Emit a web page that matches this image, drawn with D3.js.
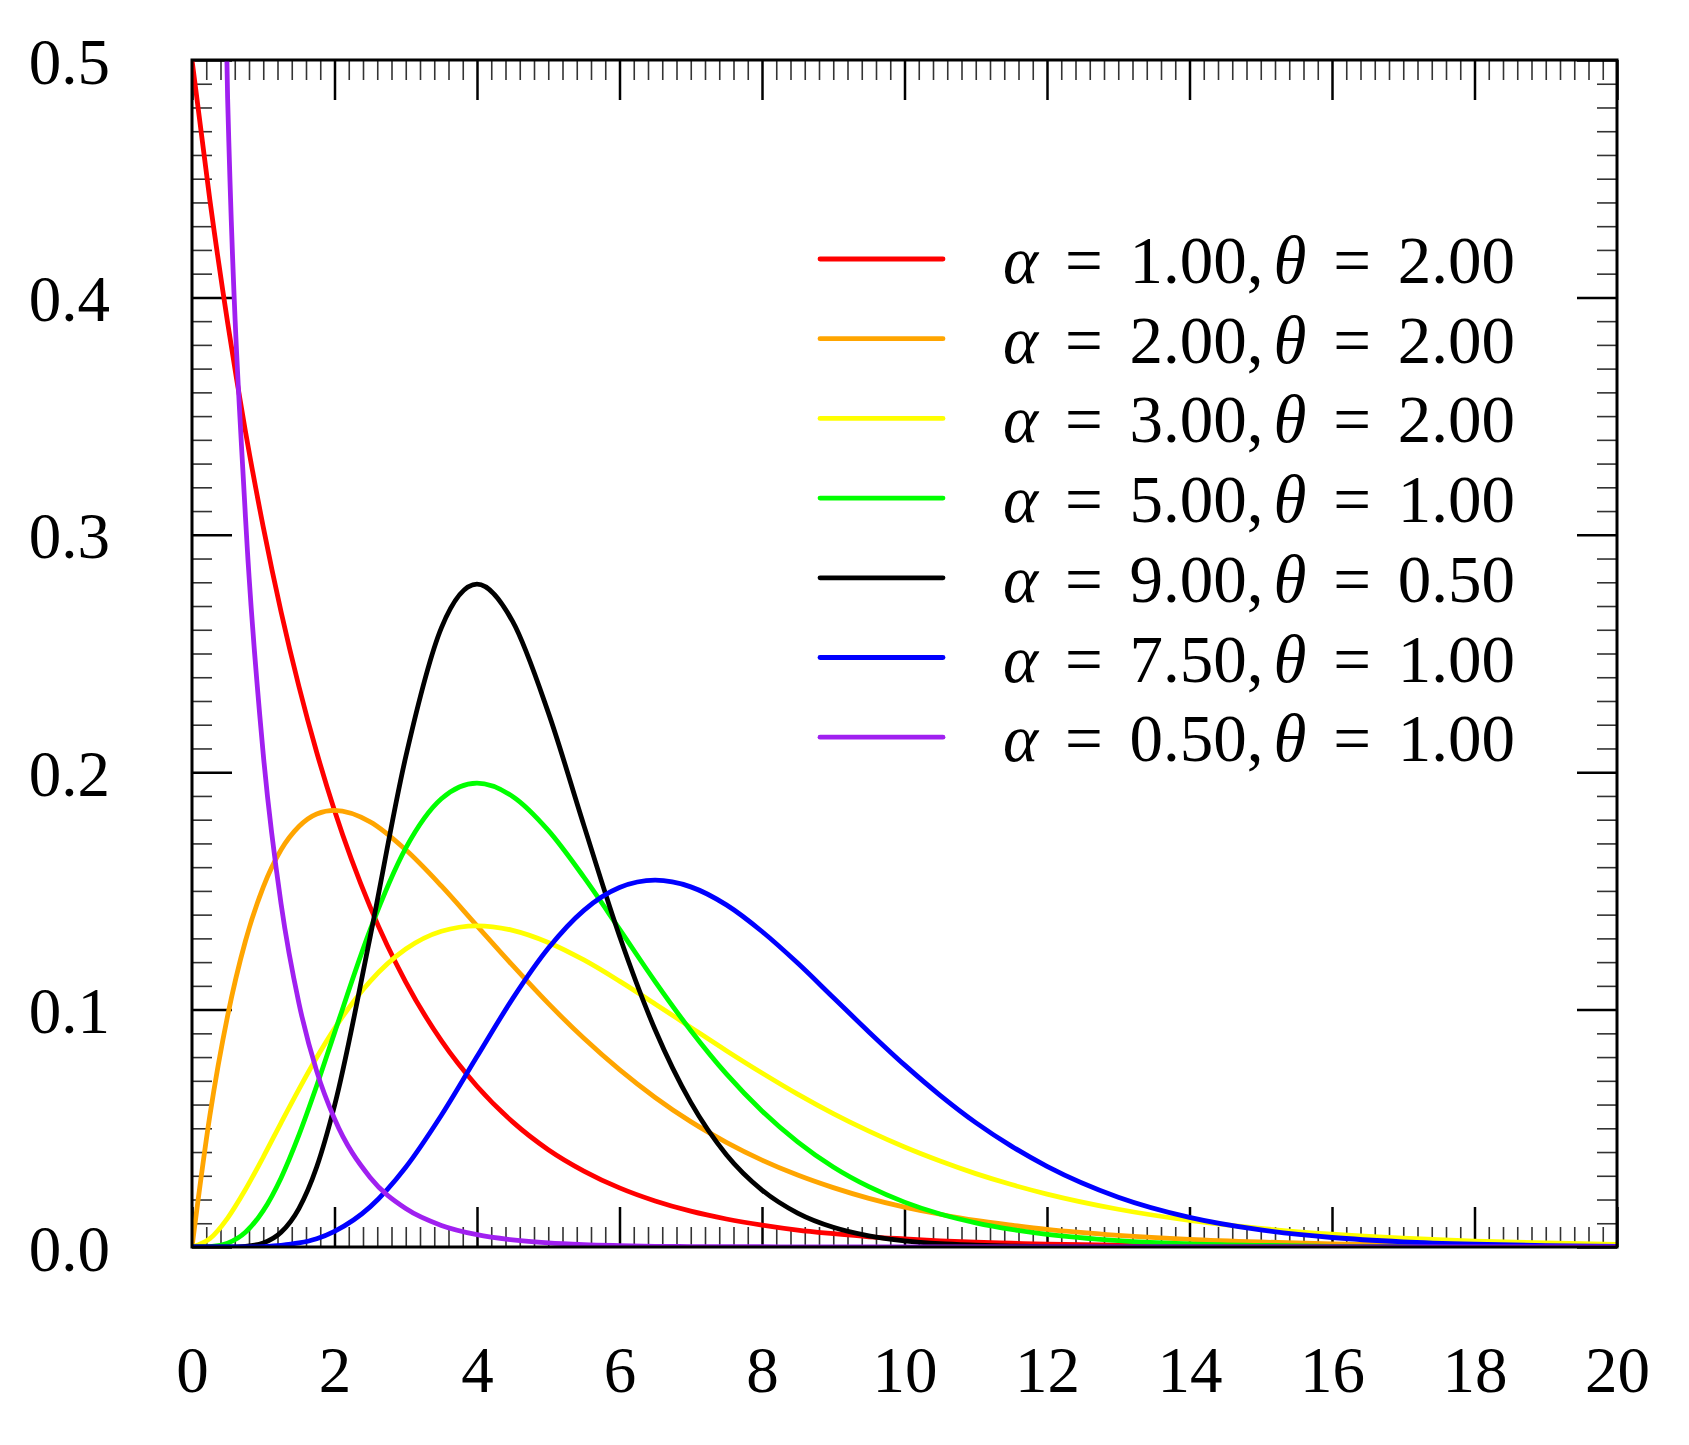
<!DOCTYPE html>
<html>
<head>
<meta charset="utf-8">
<script src="https://cdn.jsdelivr.net/npm/d3@7"></script>
<style>
  body { margin: 0; background: #fff; }
</style>
</head>
<body>
<div id="chart"></div>
<script>
// x positions the curves were read at
const xs = [0, 0.25, 0.5, 0.75, 1, 1.25, 1.5, 1.75, 2, 2.5, 3, 3.5, 4, 4.5, 5, 5.5, 6, 6.5, 7, 7.5,
  8, 8.5, 9, 9.5, 10, 10.5, 11, 11.5, 12, 13, 14, 15, 16, 17, 18, 19, 20]

// density values, one array per curve
const a1t2 = [0.5, 0.4412, 0.3894, 0.3436, 0.3033, 0.2676, 0.2362, 0.2084, 0.1839, 0.1433, 0.1116, 0.0869,
  0.0677, 0.0527, 0.041, 0.032, 0.0249, 0.0194, 0.0151, 0.0118, 0.0092, 0.0071, 0.0056, 0.0043, 0.0034,
  0.0026, 0.002, 0.0016, 0.0012, 0.0008, 0.0005, 0.0003, 0.0002, 0.0001, 0.0001, 0, 0]
const a2t2 = [0, 0.0552, 0.0974, 0.1289, 0.1516, 0.1673, 0.1771, 0.1824, 0.1839, 0.1791, 0.1673, 0.1521,
  0.1353, 0.1186, 0.1026, 0.0879, 0.0747, 0.063, 0.0528, 0.0441, 0.0366, 0.0303, 0.025, 0.0205, 0.0168,
  0.0138, 0.0112, 0.0092, 0.0074, 0.0049, 0.0032, 0.0021, 0.0013, 0.0009, 0.0006, 0.0004, 0.0002]
const a3t2 = [0, 0.0035, 0.0122, 0.0242, 0.0379, 0.0523, 0.0664, 0.0798, 0.092, 0.1119, 0.1255, 0.133,
  0.1353, 0.1334, 0.1283, 0.1209, 0.112, 0.1024, 0.0925, 0.0827, 0.0733, 0.0644, 0.0562, 0.0488, 0.0421,
  0.0362, 0.0309, 0.0263, 0.0223, 0.0159, 0.0112, 0.0078, 0.0054, 0.0037, 0.0025, 0.0017, 0.0011]
const a5t1 = [0, 0.0001, 0.0016, 0.0062, 0.0153, 0.0291, 0.0471, 0.0679, 0.0902, 0.1336, 0.168, 0.1888,
  0.1954, 0.1898, 0.1755, 0.1558, 0.1339, 0.1118, 0.0912, 0.0729, 0.0573, 0.0443, 0.0337, 0.0254, 0.0189,
  0.0139, 0.0102, 0.0074, 0.0053, 0.0027, 0.0013, 0.0007, 0.0003, 0.0001, 0.0001, 0, 0]
const a9t05 = [0, 0, 0.00002, 0.0003, 0.0017, 0.0062, 0.0162, 0.0337, 0.0595, 0.1306, 0.2065, 0.2608,
  0.2792, 0.2635, 0.2252, 0.1776, 0.131, 0.0915, 0.0609, 0.0389, 0.024, 0.0143, 0.0083, 0.0047, 0.0026,
  0.0014, 0.0008, 0.0004, 0.0002, 0.00005, 0, 0, 0, 0, 0, 0, 0]
const a75t1 = [0, 0, 0, 0, 0.0002, 0.0007, 0.0017, 0.0035, 0.0066, 0.0169, 0.0336, 0.0555,
  0.0802, 0.1046, 0.1258, 0.1418, 0.1514, 0.1545, 0.1517, 0.1441, 0.1329, 0.1196, 0.1051, 0.0906, 0.0767,
  0.0639, 0.0524, 0.0425, 0.034, 0.021, 0.0125, 0.0072, 0.004, 0.0022, 0.0012, 0.0006, 0.0003]
const a05t1 = [null, 0.8788, 0.4839, 0.3077, 0.2076, 0.1446, 0.1028, 0.0741, 0.054, 0.0293, 0.0162, 0.0091,
  0.0052, 0.003, 0.0017, 0.001, 0.0006, 0.0003, 0.0002, 0.0001, 0.0001, 0, 0, 0, 0,
  0, 0, 0, 0, 0, 0, 0, 0, 0, 0, 0, 0]

// legend labels
const alphas = ['1.00', '2.00', '3.00', '5.00', '9.00', '7.50', '0.50']
const thetas = ['2.00', '2.00', '2.00', '1.00', '0.50', '1.00', '1.00']

// tick values
const xMajorTicks = [0, 2, 4, 6, 8, 10, 12, 14, 16, 18, 20]
const yMajorTicks = [0, 0.1, 0.2, 0.3, 0.4, 0.5]

const series = [a1t2, a2t2, a3t2, a5t1, a9t05, a75t1, a05t1]
const colors = ['#ff0000', '#ffa500', '#ffff00', '#00ff00', '#000000', '#0000ff', '#a020f0']

const font = "'Liberation Serif', 'DejaVu Serif', serif"

function draw() {
  // Dimensions
  const dimensions = {
    width: 1689,
    height: 1445,
    margins: { left: 192, top: 60, right: 72, bottom: 198 },
  }
  const ctrW = dimensions.width - dimensions.margins.left - dimensions.margins.right
  const ctrH = dimensions.height - dimensions.margins.top - dimensions.margins.bottom

  // Scales
  const xScale = d3.scaleLinear().domain([0, 20]).range([0, ctrW])
  const yScale = d3.scaleLinear().domain([0, 0.5]).range([ctrH, 0])

  const xMinor = d3.range(0, 20.001, 0.2).filter((v) => Math.abs(v / 2 - Math.round(v / 2)) > 1e-6)
  const yMinor = d3.range(0, 0.5001, 0.01).filter((v) => Math.abs(v * 10 - Math.round(v * 10)) > 1e-6)

  const svg = d3
    .select('#chart')
    .append('svg')
    .attr('width', dimensions.width)
    .attr('height', dimensions.height)
    .style('background-color', '#fff')

  const ctr = svg
    .append('g')
    .attr('transform', `translate(${dimensions.margins.left}, ${dimensions.margins.top})`)

  // ticks on all four sides, pointing inwards
  const tickGroup = (axis, transform, major) => {
    const g = ctr.append('g').attr('transform', transform).call(axis)
    g.select('.domain').remove()
    g.selectAll('line')
      .attr('stroke', major ? '#000' : '#333')
      .attr('stroke-width', major ? 2.5 : 1.6)
    return g
  }

  tickGroup(d3.axisBottom(xScale).tickValues(xMinor).tickSize(-20).tickFormat(''), `translate(0,${ctrH})`, false)
  tickGroup(d3.axisTop(xScale).tickValues(xMinor).tickSize(-20).tickFormat(''), 'translate(0,0)', false)
  tickGroup(d3.axisLeft(yScale).tickValues(yMinor).tickSize(-20).tickFormat(''), 'translate(0,0)', false)
  tickGroup(d3.axisRight(yScale).tickValues(yMinor).tickSize(-20).tickFormat(''), `translate(${ctrW},0)`, false)

  const xAxisGroup = tickGroup(
    d3.axisBottom(xScale).tickValues(xMajorTicks).tickSize(-40).tickFormat(d3.format('d')),
    `translate(0,${ctrH})`,
    true
  )
  xAxisGroup
    .selectAll('text')
    .attr('y', 145)
    .attr('dy', 0)
    .style('font-family', font)
    .style('font-size', '65px')
    .style('fill', '#000')

  tickGroup(d3.axisTop(xScale).tickValues(xMajorTicks).tickSize(-40).tickFormat(''), 'translate(0,0)', true)

  const yAxisGroup = tickGroup(
    d3.axisLeft(yScale).tickValues(yMajorTicks).tickSize(-40).tickFormat(d3.format('.1f')),
    'translate(0,0)',
    true
  )
  yAxisGroup
    .selectAll('text')
    .attr('x', -82)
    .attr('dy', 23)
    .style('font-family', font)
    .style('font-size', '65px')
    .style('fill', '#000')

  tickGroup(d3.axisRight(yScale).tickValues(yMajorTicks).tickSize(-40).tickFormat(''), `translate(${ctrW},0)`, true)

  // curves
  svg
    .append('defs')
    .append('clipPath')
    .attr('id', 'plot-clip')
    .append('rect')
    .attr('width', ctrW)
    .attr('height', ctrH)

  const line = d3
    .line()
    .defined((d) => d[1] !== null)
    .x((d) => xScale(d[0]))
    .y((d) => yScale(d[1]))
    .curve(d3.curveMonotoneX)

  ctr
    .append('g')
    .attr('clip-path', 'url(#plot-clip)')
    .selectAll('path')
    .data(series)
    .join('path')
    .attr('d', (vals) => line(xs.map((x, i) => [x, vals[i]])))
    .attr('fill', 'none')
    .attr('stroke', (d, i) => colors[i])
    .attr('stroke-width', 4.8)
    .attr('stroke-linejoin', 'round')

  // frame
  ctr
    .append('rect')
    .attr('width', ctrW)
    .attr('height', ctrH)
    .attr('fill', 'none')
    .attr('stroke', '#000')
    .attr('stroke-width', 3)

  // legend
  const legend = svg.append('g')
  alphas.forEach((a, i) => {
    const ly = 259 + i * 79.7
    legend
      .append('line')
      .attr('x1', 820)
      .attr('x2', 943)
      .attr('y1', ly)
      .attr('y2', ly)
      .attr('stroke', colors[i])
      .attr('stroke-width', 4.8)
      .attr('stroke-linecap', 'round')

    const t = legend
      .append('text')
      .attr('x', 1003)
      .attr('y', ly + 24)
      .style('font-family', font)
      .style('font-size', '67px')
      .style('word-spacing', '10px')
    t.append('tspan').style('font-style', 'italic').text('α')
    t.append('tspan').text(` = ${a},`)
    t.append('tspan').attr('dx', 10).style('font-style', 'italic').text('θ')
    t.append('tspan').text(` = ${thetas[i]}`)
  })
}

draw()
</script>
</body>
</html>
